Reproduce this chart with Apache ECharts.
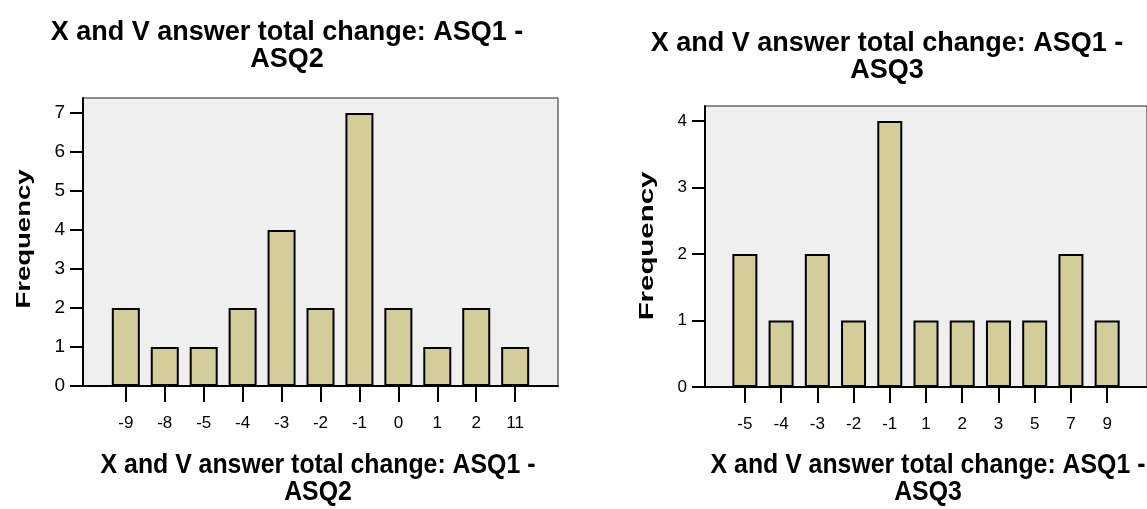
<!DOCTYPE html>
<html><head><meta charset="utf-8">
<script src="https://cdn.jsdelivr.net/npm/echarts@6/dist/echarts.min.js"></script>
<style>html,body{margin:0;padding:0;background:#fff}#c{width:1147px;height:509px}</style>
</head><body><div id="c"></div>
<script>
const leftCategories = ['-9','-8','-5','-4','-3','-2','-1','0','1','2','11'];
const leftValues = [2,1,1,2,4,2,7,2,1,2,1];
const rightCategories = ['-5','-4','-3','-2','-1','1','2','3','5','7','9'];
const rightValues = [2,1,2,1,4,1,1,1,1,2,1];
const leftYTicks = [0,1,2,3,4,5,6,7];
const rightYTicks = [0,1,2,3,4];
const leftTitle = 'X and V answer total change: ASQ1 -\nASQ2';
const rightTitle = 'X and V answer total change: ASQ1 -\nASQ3';
const yName = 'Frequency';

const FONT = '"Liberation Sans", Arial, sans-serif';
const chart = echarts.init(document.getElementById('c'));

function xAxis(cats, gi, fs){
  return {
    type:'value', gridIndex:gi, min:-1.1, max:cats.length-1+1.1,
    axisLine:{show:true, onZero:false, lineStyle:{color:'#000', width:2}},
    axisTick:{show:true, length:16, lineStyle:{color:'#000', width:2}, customValues: cats.map((c,i)=>i)},
    axisLabel:{show:true, margin:29, fontFamily:FONT, fontSize:fs, color:'#000',
      customValues: cats.map((c,i)=>i), formatter:(v)=>cats[Math.round(v)]},
    splitLine:{show:false}
  };
}
function yAxis(ticks, max, gi, fs){
  return {
    type:'value', gridIndex:gi, min:0, max:max,
    axisLine:{show:true, onZero:false, lineStyle:{color:'#000', width:2}},
    axisTick:{show:true, length:13, lineStyle:{color:'#000', width:2}, customValues: ticks},
    axisLabel:{show:true, margin:18, fontFamily:FONT, fontSize:fs, color:'#000', customValues: ticks},
    splitLine:{show:false}
  };
}
const barStyle = {color:'#d3ce99', borderColor:'#000', borderWidth:2};
const titleFont = 'bold 27px ' + FONT;
const freqFont = 'bold 21px ' + FONT;

chart.setOption({
  animation:false,
  grid:[
    {left:83, top:98, width:475, height:288, show:true, backgroundColor:'#efefef', borderColor:'#222', borderWidth:1},
    {left:705, top:106, width:444, height:281, show:true, backgroundColor:'#efefef', borderColor:'#222', borderWidth:1}
  ],
  xAxis:[xAxis(leftCategories,0,17), xAxis(rightCategories,1,17)],
  yAxis:[yAxis(leftYTicks, 7.385, 0, 19), yAxis(rightYTicks, 4.226, 1, 17)],
  series:[
    {type:'bar', xAxisIndex:0, yAxisIndex:0, barWidth:28, itemStyle:barStyle,
     data:leftValues.map((v,i)=>[i,v])},
    {type:'bar', xAxisIndex:1, yAxisIndex:1, barWidth:25, itemStyle:barStyle,
     data:rightValues.map((v,i)=>[i,v])}
  ],
  graphic:[
    {type:'text', x:287, y:46, style:{text:leftTitle, font:titleFont, fill:'#000', align:'center', verticalAlign:'middle', lineHeight:27}},
    {type:'text', x:887, y:57, style:{text:rightTitle, font:titleFont, fill:'#000', align:'center', verticalAlign:'middle', lineHeight:27}},
    {type:'text', x:318, y:479, scaleX:0.92, style:{text:leftTitle, font:titleFont, fill:'#000', align:'center', verticalAlign:'middle', lineHeight:27}},
    {type:'text', x:928, y:479, scaleX:0.92, style:{text:rightTitle, font:titleFont, fill:'#000', align:'center', verticalAlign:'middle', lineHeight:27}},
    {type:'text', x:24, y:239, rotation:Math.PI/2, scaleX:1.31, style:{text:yName, font:freqFont, fill:'#000', align:'center', verticalAlign:'middle'}},
    {type:'text', x:647, y:246, rotation:Math.PI/2, scaleX:1.4, style:{text:yName, font:freqFont, fill:'#000', align:'center', verticalAlign:'middle'}}
  ]
});
</script></body></html>
